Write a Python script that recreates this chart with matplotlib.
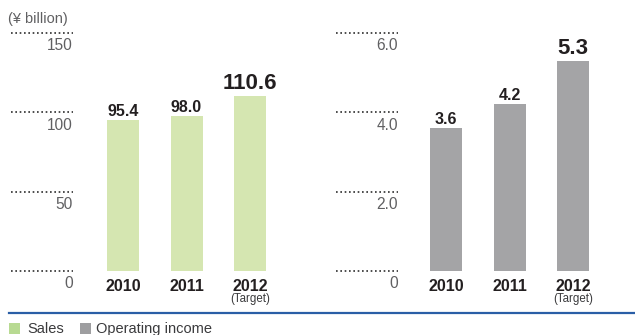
import matplotlib
matplotlib.use("Agg")
import matplotlib.pyplot as plt
from matplotlib.patches import Rectangle
from matplotlib.lines import Line2D

plt.rcParams['font.family'] = ['Liberation Sans', 'DejaVu Sans']

# Data
years = ["2010", "2011", "2012"]
year_notes = ["", "", "(Target)"]
sales = [95.4, 98.0, 110.6]
operating_income = [3.6, 4.2, 5.3]
sales_ticks = [0, 50, 100, 150]
sales_tick_labels = ["0", "50", "100", "150"]
income_ticks = [0, 2.0, 4.0, 6.0]
income_tick_labels = ["0", "2.0", "4.0", "6.0"]
unit_label = "(¥ billion)"
legend_labels = ["Sales", "Operating income"]

GREEN = "#d5e6b1"
GREY = "#a4a4a6"
KEY_GREEN = "#b8da92"
KEY_GREY = "#9e9ea0"
TEXT_DARK = "#231f20"
TEXT_TICK = "#606062"
BLUE = "#2a5ea6"

W, H = 635, 335
fig = plt.figure(figsize=(W / 100, H / 100), dpi=100)


def px_rect(left, top, right, bottom):
    return [left / W, 1 - bottom / H, (right - left) / W, (bottom - top) / H]


PITCH = 63.5      # pixels between bar centres
BAR_PX = 32       # bar width in pixels


def panel(left_px, first_centre_px, right_px, values, ymax, ticks, tick_labels, colour, fmt):
    ax = fig.add_axes(px_rect(left_px, 33, right_px, 271))
    x0 = (left_px - first_centre_px) / PITCH
    x1 = (right_px - first_centre_px) / PITCH
    ax.set_xlim(x0, x1)
    ax.set_ylim(0, ymax)
    ax.axis("off")

    xs = list(range(len(values)))
    ax.bar(xs, values, width=BAR_PX / PITCH, color=colour, linewidth=0, clip_on=False)

    # dotted reference lines with labels beneath
    line_end = x0 + 62 / PITCH
    for t, lab in zip(ticks, tick_labels):
        ax.plot([x0, line_end], [t, t], color="#2e2e2e", lw=1.2,
                dashes=(1.0, 1.6), clip_on=False, solid_capstyle="butt",
                dash_capstyle="butt")
        ax.annotate(lab, (line_end, t), xytext=(0, -17.5), textcoords="offset pixels",
                    ha="right", va="baseline", fontsize=11.2, color=TEXT_TICK)

    # value labels; the target year is emphasised
    for i, v in enumerate(values):
        big = i == len(values) - 1
        ax.annotate(fmt.format(v), (i, v), xytext=(0, 7 if big else 4),
                    textcoords="offset pixels", ha="center", va="baseline",
                    fontsize=16 if big else 11.5, fontweight="bold", color=TEXT_DARK)

    # year labels
    for i, (yr, note) in enumerate(zip(years, year_notes)):
        ax.annotate(yr, (i, 0), xytext=(0, -20), textcoords="offset pixels",
                    ha="center", va="baseline", fontsize=11.5, fontweight="bold",
                    color=TEXT_DARK)
        if note:
            ax.annotate(note, (i, 0), xytext=(0, -31), textcoords="offset pixels",
                        ha="center", va="baseline", fontsize=8.3, color="#3a3a3c")
    return ax


ax_sales = panel(11, 123, 300, sales, 150, sales_ticks, sales_tick_labels, GREEN, "{:.1f}")
ax_income = panel(336, 446, 625, operating_income, 6.0, income_ticks, income_tick_labels, GREY, "{:.1f}")

fig.text(8 / W, 1 - 23 / H, unit_label, fontsize=10.5, color=TEXT_TICK,
         ha="left", va="baseline")

# rule above the legend
fig.add_artist(Line2D([9 / W, 1.0], [1 - 313 / H, 1 - 313 / H], color=BLUE, lw=1.6))

# legend
fig.add_artist(Rectangle((9 / W, 1 - 334 / H), 11 / W, 11 / H, color=KEY_GREEN, lw=0))
fig.text(27 / W, 1 - 333 / H, legend_labels[0], fontsize=10.5, color="#3a3a3c",
         ha="left", va="baseline")
fig.add_artist(Rectangle((80 / W, 1 - 334 / H), 11 / W, 11 / H, color=KEY_GREY, lw=0))
fig.text(96 / W, 1 - 333 / H, legend_labels[1], fontsize=10.5, color="#3a3a3c",
         ha="left", va="baseline")

fig.savefig("out.png", dpi=100)
